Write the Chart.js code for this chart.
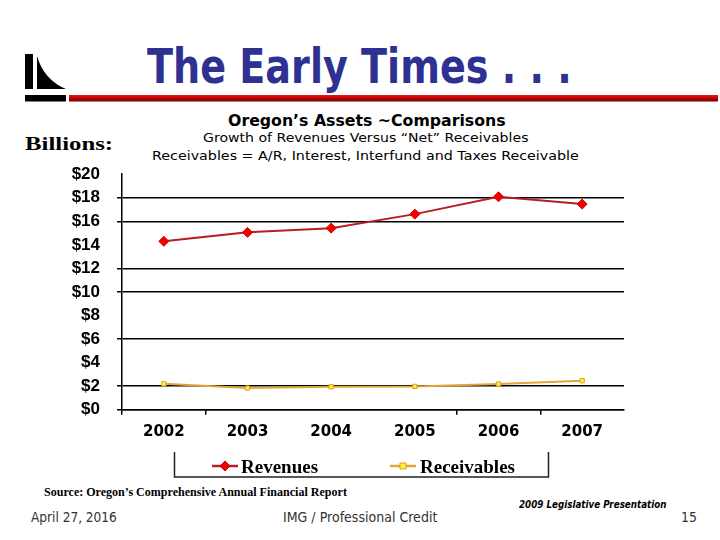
<!DOCTYPE html>
<html>
<head>
<meta charset="utf-8">
<script src="https://cdn.jsdelivr.net/npm/chart.js@4/dist/chart.umd.min.js"></script>
<style>
  html, body { margin:0; padding:0; background:#fff; }
  #page { position:relative; width:720px; height:540px; overflow:hidden; background:#fff; }
  .t { position:absolute; white-space:nowrap; line-height:1; transform-origin:0 0; color:#000; }
  #chartCanvas { position:absolute; left:0; top:147px; }
  svg { position:absolute; left:0; top:0; }
</style>
</head>
<body>
<div id="page">
  <svg width="720" height="110">
    <defs>
      <linearGradient id="rg" x1="0" y1="0" x2="0" y2="1">
        <stop offset="0" stop-color="#e31b1b"/>
        <stop offset="0.5" stop-color="#c00000"/>
        <stop offset="1" stop-color="#6e0000"/>
      </linearGradient>
    </defs>
    <rect x="25" y="54" width="8" height="35" fill="#000"/>
    <path d="M37 56 Q 44 80 66 89 L 37 89 Z" fill="#000"/>
    <rect x="25" y="95" width="41" height="6.5" fill="#000"/>
    <rect x="69" y="95" width="649" height="6.5" fill="url(#rg)"/>
  </svg>
  <div class="t" data-l="147" data-r="572" data-b="79" style="font:bold 48px 'DejaVu Sans';color:#2E3192">The Early Times . . .</div>
  <div class="t" data-l="228" data-r="506" data-b="125" style="font:bold 15px 'DejaVu Sans'">Oregon’s Assets ~Comparisons</div>
  <div class="t" data-l="25" data-r="113" data-b="149" style="font:bold 18px 'Liberation Serif'">Billions:</div>
  <div class="t" data-l="203" data-r="528" data-b="141" style="font:13px 'DejaVu Sans'">Growth of Revenues Versus “Net” Receivables</div>
  <div class="t" data-l="152" data-r="579" data-b="159" style="font:13px 'DejaVu Sans'">Receivables = A/R, Interest, Interfund and Taxes Receivable</div>
  <canvas id="chartCanvas" width="720" height="333"></canvas>
  <div class="t" data-l="44" data-r="347" data-b="495" style="font:bold 12px 'Liberation Serif'">Source: Oregon’s Comprehensive Annual Financial Report</div>
  <div class="t" data-l="31" data-r="117" data-b="521" style="font:14px 'DejaVu Sans';color:#333">April 27, 2016</div>
  <div class="t" data-l="283" data-r="437" data-b="521" style="font:14px 'DejaVu Sans';color:#333">IMG / Professional Credit</div>
  <div class="t" data-l="519" data-r="667" data-b="507" style="font:italic bold 10px 'DejaVu Sans'">2009 Legislative Presentation</div>
  <div class="t" data-l="681" data-r="697" data-b="521" style="font:14px 'DejaVu Sans';color:#333">15</div>
</div>
<script>
// ---- data ----
const years = ['2002', '2003', '2004', '2005', '2006', '2007'];
const revenues = [14.3, 15.06, 15.42, 16.61, 18.08, 17.46];
const receivables = [2.2, 1.84, 1.95, 1.98, 2.18, 2.46];
const seriesNames = ['Revenues', 'Receivables'];
const yTickValues = [0, 2, 4, 6, 8, 10, 12, 14, 16, 18, 20];
const yTickLabels = ['$0', '$2', '$4', '$6', '$8', '$10', '$12', '$14', '$16', '$18', '$20'];
const yGridShown = [0, 2, 6, 10, 12, 16, 18];
const xTickShown = [0, 1, 4, 5];

// ---- text placement ----
document.querySelectorAll('.t').forEach(el => {
  const l = +el.dataset.l, r = +el.dataset.r, b = +el.dataset.b;
  const size = parseFloat(getComputedStyle(el).fontSize);
  const w = el.offsetWidth;
  el.style.left = l + 'px';
  el.style.top = (b - 0.845 * size) + 'px';
  el.style.transform = 'scaleX(' + ((r - l) / w) + ')';
});

const CANVAS_TOP = 147;

// ---- legend plugin ----
const boxLegend = {
  id: 'boxLegend',
  afterDraw(chart) {
    const ctx = chart.ctx;
    const oy = CANVAS_TOP;
    ctx.save();
    ctx.strokeStyle = '#222';
    ctx.lineWidth = 1.5;
    ctx.beginPath();
    ctx.moveTo(174.5, 452 - oy);
    ctx.lineTo(174.5, 477 - oy);
    ctx.lineTo(548.5, 477 - oy);
    ctx.lineTo(548.5, 452 - oy);
    ctx.stroke();
    const lineX = [212, 390];
    const textX = [241, 420];
    const cy = 466 - oy;
    chart.data.datasets.forEach((ds, i) => {
      ctx.strokeStyle = ds.borderColor;
      ctx.lineWidth = 2.5;
      ctx.beginPath();
      ctx.moveTo(lineX[i], cy);
      ctx.lineTo(lineX[i] + 26, cy);
      ctx.stroke();
      const mx = lineX[i] + 13;
      ctx.fillStyle = ds.pointBackgroundColor;
      ctx.strokeStyle = ds.pointBorderColor;
      ctx.lineWidth = 1;
      ctx.beginPath();
      const r = ds.pointRadius;
      if (ds.pointStyle === 'rectRot') {
        ctx.moveTo(mx, cy - r); ctx.lineTo(mx + r, cy); ctx.lineTo(mx, cy + r); ctx.lineTo(mx - r, cy); ctx.closePath();
      } else {
        ctx.rect(mx - r, cy - r, 2 * r, 2 * r);
      }
      ctx.fill(); ctx.stroke();
      ctx.fillStyle = '#000';
      ctx.font = "bold 19px 'Liberation Serif'";
      ctx.textBaseline = 'alphabetic';
      ctx.fillText(ds.label, textX[i], 473 - oy);
    });
    ctx.restore();
  }
};

new Chart(document.getElementById('chartCanvas'), {
  type: 'line',
  data: {
    labels: years,
    datasets: [
      {
        label: seriesNames[0],
        data: revenues,
        borderColor: '#B81D22',
        borderWidth: 2,
        pointStyle: 'rectRot',
        pointRadius: 5,
        pointBackgroundColor: '#F20000',
        pointBorderColor: '#D00000',
        pointBorderWidth: 1,
        tension: 0
      },
      {
        label: seriesNames[1],
        data: receivables,
        borderColor: '#E2A53A',
        borderWidth: 2,
        pointStyle: 'rect',
        pointRadius: 3,
        pointBackgroundColor: '#FFF23A',
        pointBorderColor: '#D9A020',
        pointBorderWidth: 1,
        tension: 0
      }
    ]
  },
  options: {
    responsive: false,
    animation: false,
    devicePixelRatio: 1,
    layout: { padding: { left: 0, right: 96, top: 0, bottom: 35 } },
    plugins: { legend: { display: false }, tooltip: { enabled: false }, title: { display: false } },
    scales: {
      x: {
        type: 'category',
        offset: true,
        grid: {
          offset: true,
          drawOnChartArea: false,
          tickLength: 5,
          lineWidth: 1.5,
          color: c => xTickShown.includes(c.index) ? '#000' : 'rgba(0,0,0,0)'
        },
        border: { display: true, color: '#000', width: 1.5 },
        ticks: { color: '#000', font: { family: 'DejaVu Sans', weight: 'bold', size: 15 }, padding: 8, maxRotation: 0, autoSkip: false },
        afterFit: s => { s.height = 35.3; }
      },
      y: {
        min: 0,
        max: 20,
        afterBuildTicks: s => { s.ticks = yTickValues.map(v => ({ value: v })); },
        ticks: {
          color: '#000',
          autoSkip: false,
          font: { family: 'Liberation Sans', weight: 'bold', size: 17 },
          padding: 17,
          callback: (v) => yTickLabels[yTickValues.indexOf(v)]
        },
        grid: {
          lineWidth: 1.5,
          tickLength: 5,
          color: c => (c.tick && yGridShown.includes(c.tick.value)) ? '#000' : 'rgba(0,0,0,0)'
        },
        border: { display: true, color: '#000', width: 1.5 },
        afterFit: s => { s.width = 122; }
      }
    }
  },
  plugins: [boxLegend]
});
</script>
</body>
</html>
